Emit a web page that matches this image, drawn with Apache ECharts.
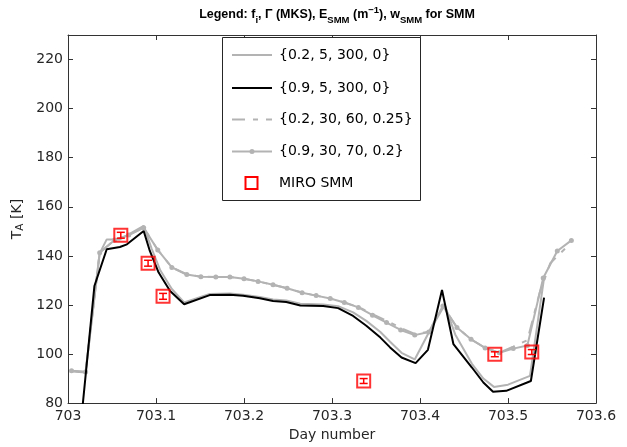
<!DOCTYPE html>
<html><head><meta charset="utf-8">
<script src="https://cdn.jsdelivr.net/npm/echarts@6/dist/echarts.min.js"></script>
<style>html,body{margin:0;padding:0;background:#fff}#c{width:627px;height:447px}</style>
</head><body><div id="c"></div>
<script>
// ---- Data ----
const s1Name = '{0.2, 5, 300, 0}';
const s1Day = [703.002,703.020,703.036,703.044,703.059,703.086,703.095,703.105,703.118,703.132,703.161,703.184,703.199,703.218,703.233,703.248,703.264,703.290,703.307,703.324,703.339,703.355,703.366,703.379,703.394,703.410,703.428,703.440,703.459,703.472,703.484,703.500,703.525,703.541];
const s1T   = [93.0,92.5,141.0,146.7,146.7,152.2,143.0,134.0,126.5,121.0,124.5,124.7,124.2,123.2,122.2,121.8,120.5,120.2,119.5,117.0,113.5,109.0,105.0,100.5,97.8,108.8,120.0,108.0,96.0,90.0,86.6,87.5,91.1,131.0];

const s2Name = '{0.9, 5, 300, 0}';
const s2Day = [703.012,703.030,703.044,703.059,703.067,703.086,703.093,703.103,703.116,703.132,703.161,703.184,703.199,703.218,703.233,703.248,703.264,703.290,703.307,703.324,703.339,703.355,703.366,703.379,703.395,703.409,703.425,703.438,703.459,703.472,703.483,703.498,703.526,703.541];
const s2T   = [62.0,127.7,142.7,143.6,144.7,150.1,142.0,133.2,125.7,120.3,124.0,124.2,123.7,122.7,121.6,121.2,119.8,119.6,118.7,115.5,111.5,106.7,102.7,98.6,96.3,101.7,126.1,104.0,94.5,88.4,84.6,85.0,89.0,123.0];

const s3Name = '{0.2, 30, 60, 0.25}';
const s3Day = [703.004,703.020,703.036,703.053,703.069,703.086,703.102,703.118,703.135,703.151,703.168,703.184,703.200,703.216,703.233,703.249,703.266,703.282,703.298,703.314,703.330,703.346,703.362,703.378,703.394,703.410,703.426,703.442,703.458,703.474,703.490,703.506,703.522,703.536,703.548,703.565];
const s3T   = [93.2,92.7,141.3,146.5,148.5,151.5,142.4,135.3,132.4,131.5,131.4,131.4,130.7,129.6,128.2,126.8,125.0,123.8,122.6,121.0,119.2,116.2,113.6,110.6,108.2,109.0,119.6,110.8,106.0,102.5,100.5,103.0,105.6,125.0,137.0,143.0];

const s4Name = '{0.9, 30, 70, 0.2}';
const s4Day = [703.004,703.020,703.036,703.053,703.069,703.086,703.102,703.118,703.135,703.151,703.168,703.184,703.200,703.216,703.233,703.249,703.266,703.282,703.298,703.314,703.330,703.346,703.362,703.378,703.394,703.410,703.426,703.442,703.458,703.474,703.490,703.506,703.522,703.540,703.556,703.572];
const s4T   = [93.2,92.7,141.3,146.5,148.5,151.5,142.4,135.3,132.4,131.5,131.4,131.4,130.7,129.6,128.2,126.8,125.0,123.8,122.6,121.0,119.0,115.8,112.8,109.8,107.7,109.0,119.6,110.8,106.0,102.5,100.5,102.2,103.5,131.0,142.0,146.3];

const miroName = 'MIRO SMM';
const miroDay = [703.060,703.091,703.108,703.336,703.485,703.527];
const miroT   = [148.4,137.0,123.5,89.0,99.9,100.8];
const miroErr = [1.2,1.2,1.2,1.0,1.0,1.0];

const legendNames = [s1Name, s2Name, s3Name, s4Name, miroName];

const yMin = 80, yMax = 230, yStep = 20;
const xMin = 703, xMax = 703.6, xStep = 0.1;

// ---- Chart ----
const zip = (a, b) => a.map((v, i) => [v, b[i]]);
const gray = '#b3b3b3';
const red = '#ff0000';
const txt = '#262626';
const font = 'DejaVu Sans';
const dashDot = [13, 8, 5, 8];

const chart = echarts.init(document.getElementById('c'), null, {renderer: 'canvas'});

function errItem(params, api) {
  const x = api.value(0), y = api.value(1), e = api.value(2);
  const t = api.coord([x, y + e]);
  const b = api.coord([x, y - e]);
  const w = 4;
  const st = {stroke: red, lineWidth: 1.5};
  return {type: 'group', children: [
    {type: 'line', shape: {x1: t[0], y1: t[1], x2: b[0], y2: b[1]}, style: st},
    {type: 'line', shape: {x1: t[0] - w, y1: t[1], x2: t[0] + w, y2: t[1]}, style: st},
    {type: 'line', shape: {x1: b[0] - w, y1: b[1], x2: b[0] + w, y2: b[1]}, style: st}
  ]};
}

const axisCommon = {
  type: 'value',
  axisLine: {show: true, onZero: false, lineStyle: {color: '#333', width: 1}},
  axisTick: {show: true, inside: true, length: 5, lineStyle: {color: '#333'}},
  splitLine: {show: false}
};

// legend drawn as graphic elements (box, samples, labels)
const lgX0 = 232, lgX1 = 272, lgTextX = 279;
const lgRows = [55, 88, 119.5, 151.5, 183];
const legendGraphics = [
  {type: 'rect', shape: {x: 222.5, y: 37.5, width: 198, height: 163}, style: {fill: '#fff', stroke: '#262626', lineWidth: 1}, z: 10},
  {type: 'line', shape: {x1: lgX0, y1: lgRows[0], x2: lgX1, y2: lgRows[0]}, style: {stroke: gray, lineWidth: 2}, z: 11},
  {type: 'line', shape: {x1: lgX0, y1: lgRows[1], x2: lgX1, y2: lgRows[1]}, style: {stroke: '#000', lineWidth: 2}, z: 11},
  {type: 'line', shape: {x1: lgX0, y1: lgRows[2], x2: lgX1, y2: lgRows[2]}, style: {stroke: gray, lineWidth: 2, lineDash: dashDot}, z: 11},
  {type: 'line', shape: {x1: lgX0, y1: lgRows[3], x2: lgX1, y2: lgRows[3]}, style: {stroke: gray, lineWidth: 2}, z: 11},
  {type: 'circle', shape: {cx: (lgX0 + lgX1) / 2, cy: lgRows[3], r: 2.5}, style: {fill: gray}, z: 11},
  {type: 'rect', shape: {x: 245.5, y: lgRows[4] - 6, width: 12, height: 12}, style: {fill: 'none', stroke: red, lineWidth: 2}, z: 11}
].concat(legendNames.map((n, i) => ({
  type: 'text', x: lgTextX, y: lgRows[i], z: 11,
  style: {text: n, fill: '#000', font: '14px "' + font + '"', textVerticalAlign: 'middle', verticalAlign: 'middle'}
})));

const tb = {fontFamily: 'Liberation Sans', fontSize: 12.5, fontWeight: 'bold', color: '#000', lineHeight: 16};
const option = {
  animation: false,
  backgroundColor: '#fff',
  textStyle: {fontFamily: font},
  title: {
    text: '{b|Legend: f}{s|i}{b|, Γ (MKS), E}{s|SMM}{b| (m}{p|−1}{b|), w}{s|SMM}{b| for SMM}',
    left: 332, top: 0, textAlign: 'center',
    textStyle: {
      rich: {
        b: Object.assign({}, tb, {verticalAlign: 'bottom'}),
        s: Object.assign({}, tb, {fontSize: 9.5, verticalAlign: 'bottom', padding: [0, 0, -4, 0]}),
        p: Object.assign({}, tb, {fontSize: 9.5, verticalAlign: 'top', padding: [0, 0, 6, 0]})
      }
    }
  },
  grid: {left: 68, right: 31, top: 35, bottom: 43, containLabel: false},
  xAxis: [
    Object.assign({}, axisCommon, {
      min: xMin, max: xMax, interval: xStep, position: 'bottom',
      axisLabel: {color: txt, fontSize: 14, fontFamily: font, margin: 6, showMaxLabel: true, showMinLabel: true},
      name: 'Day number', nameLocation: 'middle', nameGap: 21,
      nameTextStyle: {color: txt, fontSize: 14, fontFamily: font}
    }),
    Object.assign({}, axisCommon, {
      min: xMin, max: xMax, interval: xStep, position: 'top', axisLabel: {show: false}
    })
  ],
  yAxis: [
    Object.assign({}, axisCommon, {
      min: yMin, max: yMax, interval: yStep, position: 'left',
      axisLabel: {color: txt, fontSize: 14, fontFamily: font, margin: 5, showMaxLabel: false},
      name: '{n|T}{s|A}{n| [K]}', nameLocation: 'middle', nameGap: 38, nameRotate: 90,
      nameTextStyle: {
        rich: {
          n: {color: txt, fontSize: 14, fontFamily: font},
          s: {color: txt, fontSize: 10.5, fontFamily: font, padding: [0, 0, -6, 0]}
        }
      }
    }),
    Object.assign({}, axisCommon, {
      min: yMin, max: yMax, interval: yStep, position: 'right', axisLabel: {show: false}
    })
  ],
  graphic: legendGraphics,
  series: [
    {name: s1Name, type: 'line', data: zip(s1Day, s1T), symbol: 'none',
     lineStyle: {color: gray, width: 2}, itemStyle: {color: gray}, z: 3},
    {name: s2Name, type: 'line', data: zip(s2Day, s2T), symbol: 'none',
     lineStyle: {color: '#000', width: 2}, itemStyle: {color: '#000'}, z: 4},
    {name: s3Name, type: 'line', data: zip(s3Day, s3T), symbol: 'none',
     lineStyle: {color: gray, width: 2, type: dashDot}, itemStyle: {color: gray}, z: 3},
    {name: s4Name, type: 'line', data: zip(s4Day, s4T), symbol: 'circle', symbolSize: 5, showSymbol: true,
     lineStyle: {color: gray, width: 2}, itemStyle: {color: gray}, z: 3},
    {name: miroName, type: 'scatter', data: zip(miroDay, miroT), symbol: 'rect', symbolSize: 13,
     itemStyle: {color: 'rgba(255,255,255,0)', borderColor: red, borderWidth: 2}, z: 6},
    {name: miroName + ' err', type: 'custom', data: miroDay.map((d, i) => [d, miroT[i], miroErr[i]]),
     encode: {x: 0, y: 1}, renderItem: errItem, z: 6}
  ]
};
chart.setOption(option);
</script>
</body></html>
